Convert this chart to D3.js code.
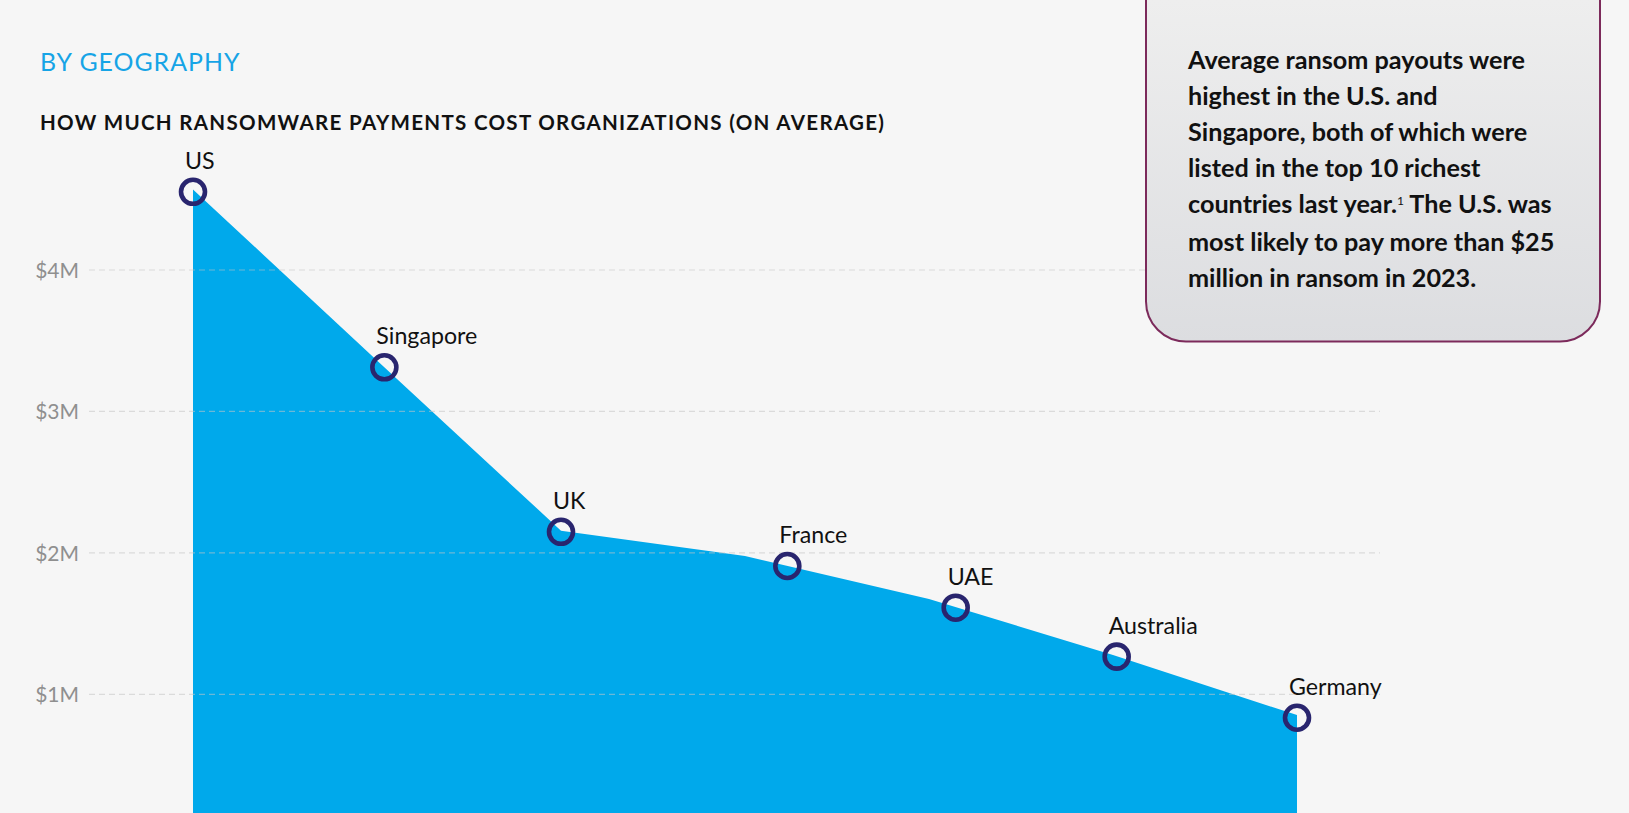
<!DOCTYPE html>
<html>
<head>
<meta charset="utf-8">
<script src="https://cdn.jsdelivr.net/npm/d3@7"></script>
<style>
  html, body { margin: 0; padding: 0; background: #f6f6f6; }
  svg { display: block; }
  text { font-family: Lato, "Noto Sans", sans-serif; }
</style>
</head>
<body>
<svg id="chart" width="1629" height="813"></svg>
<script>
// ---- data ----
const countries = ["US", "Singapore", "UK", "France", "UAE", "Australia", "Germany"];
// area profile values ($M) at evenly spaced country slots
const areaValues = [4.57, 3.36, 2.157, 1.978, 1.674, 1.278, 0.853];
// marker values ($M) and marker slot positions (in country-index units)
const markerValues = [4.553, 3.312, 2.149, 1.907, 1.612, 1.266, 0.834];
const markerPos = [0, 1.04, 2, 3.23, 4.145, 5.02, 6];
const tickValues = [1, 2, 3, 4];
const tickLabels = ["$1M", "$2M", "$3M", "$4M"];
const calloutLines = [
  ["Average ransom payouts were"],
  ["highest in the U.S. and"],
  ["Singapore, both of which were"],
  ["listed in the top 10 richest"],
  ["countries last year.", "1", " The U.S. was"],
  ["most likely to pay more than $25"],
  ["million in ransom in 2023."]
];

const svg = d3.select("#chart");

function fitWidth(sel, target) {
  const node = sel.node();
  const fs = parseFloat(sel.attr("font-size"));
  const w = node.getComputedTextLength();
  sel.attr("font-size", (fs * target / w).toFixed(2));
}

// ---- scales ----
const x = d3.scaleLinear().domain([0, 6]).range([193, 1297]);
const y = d3.scaleLinear().domain([0, 4]).range([835.7, 270]);

// ---- area ----
const area = d3.area()
  .x((d, i) => x(i))
  .y0(y(0))
  .y1(d => y(d))
  .curve(d3.curveLinear);

svg.append("path")
  .datum(areaValues)
  .attr("d", area)
  .attr("fill", "#00a9eb");

// ---- gridlines + y axis labels ----
const yAxis = d3.axisLeft(y)
  .tickValues(tickValues)
  .tickSize(0)
  .tickPadding(0)
  .tickFormat((d, i) => tickLabels[i]);

const gAxis = svg.append("g").attr("transform", "translate(79,0)").call(yAxis);
gAxis.select(".domain").remove();
gAxis.selectAll("text")
  .attr("font-family", "Lato, sans-serif")
  .attr("font-size", 21)
  .attr("fill", "#8f8f8f")
  .attr("dy", "0.36em");

svg.append("g")
  .selectAll("line")
  .data(tickValues)
  .join("line")
  .attr("x1", 89)
  .attr("x2", 1380)
  .attr("y1", d => y(d))
  .attr("y2", d => y(d))
  .attr("stroke", "#c4c4c4")
  .attr("stroke-opacity", 0.55)
  .attr("stroke-width", 1.2)
  .attr("stroke-dasharray", "6,4");

// ---- markers ----
svg.append("g")
  .selectAll("circle")
  .data(countries)
  .join("circle")
  .attr("cx", (d, i) => x(markerPos[i]))
  .attr("cy", (d, i) => y(markerValues[i]))
  .attr("r", 12)
  .attr("fill", "none")
  .attr("stroke", "#29256e")
  .attr("stroke-width", 4.6);

svg.append("g")
  .selectAll("text")
  .data(countries)
  .join("text")
  .attr("x", (d, i) => x(markerPos[i]) - 8)
  .attr("y", (d, i) => y(markerValues[i]) - 23)
  .attr("font-size", 23.2)
  .attr("fill", "#111")
  .text(d => d);

// ---- titles ----
const t1 = svg.append("text")
  .attr("x", 40).attr("y", 71)
  .attr("font-size", 26)
  .attr("letter-spacing", "1px")
  .attr("fill", "#16a4e6")
  .text("BY GEOGRAPHY");
fitWidth(t1, 200);

const t2 = svg.append("text")
  .attr("x", 40).attr("y", 130)
  .attr("font-size", 21)
  .attr("font-weight", 700)
  .attr("letter-spacing", "1.3px")
  .attr("fill", "#111")
  .text("HOW MUCH RANSOMWARE PAYMENTS COST ORGANIZATIONS (ON AVERAGE)");
fitWidth(t2, 844);

// ---- callout box ----
const defs = svg.append("defs");
const grad = defs.append("linearGradient")
  .attr("id", "boxGrad")
  .attr("gradientUnits", "userSpaceOnUse")
  .attr("x1", 0).attr("y1", 0).attr("x2", 0).attr("y2", 342);
grad.append("stop").attr("offset", "0%").attr("stop-color", "#eeeeee");
grad.append("stop").attr("offset", "100%").attr("stop-color", "#dcdde0");

svg.append("rect")
  .attr("x", 1146).attr("y", -60)
  .attr("width", 454).attr("height", 401.5)
  .attr("rx", 40).attr("ry", 40)
  .attr("fill", "url(#boxGrad)")
  .attr("stroke", "#7c2a5b")
  .attr("stroke-width", 2);

const baselines = [69, 105, 141, 177, 213, 251, 287];
const gc = svg.append("g");
const lines = gc.selectAll("text")
  .data(calloutLines)
  .join("text")
  .attr("x", 1188)
  .attr("y", (d, i) => baselines[i])
  .attr("font-size", 24)
  .attr("font-weight", 700)
  .attr("fill", "#111");

// fit callout size using first line
lines.each(function(parts) { d3.select(this).text(parts.join("")); });
const w0 = lines.filter((d, i) => i === 0).node().getComputedTextLength();
const fsC = 24 * 337 / w0;
lines.attr("font-size", fsC.toFixed(2));

lines.each(function(parts) {
  const t = d3.select(this);
  if (parts.length === 1) {
    t.text(parts[0]);
  } else {
    t.text(null);
    t.append("tspan").text(parts[0]);
    t.append("tspan").attr("font-size", 12).attr("font-weight", 400).attr("dx", 0).attr("dy", -8).text(parts[1]);
    t.append("tspan").attr("dy", 8).text(parts[2]);
  }
});
</script>
</body>
</html>
